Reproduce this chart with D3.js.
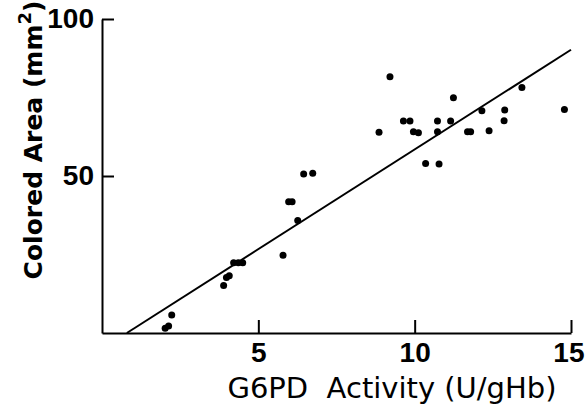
<!DOCTYPE html>
<html>
<head>
<meta charset="utf-8">
<script src="https://cdn.jsdelivr.net/npm/d3@7"></script>
<style>
  body { margin: 0; background: #fff; }
  .axis path, .axis line { stroke: #000; stroke-width: 2; }
  .axis text { font-family: "Liberation Sans Narrow", "Liberation Sans", Arial, sans-serif; font-weight: bold; font-size: 28px; fill: #000; }
  .title { font-family: "DejaVu Sans", sans-serif; fill: #000; }
</style>
</head>
<body>
<script>
var width = 586,
    height = 409;

// G6PD activity (U/gHb) vs colored area (mm2)
var activity = [2.02, 2.13, 2.23, 3.89, 3.98, 4.07, 4.21, 4.36, 4.5, 5.79, 5.97, 6.08, 6.26, 6.45, 6.74,
                8.86, 9.21, 9.64, 9.85, 9.96, 10.12, 10.35, 10.73, 10.73, 10.78, 11.15, 11.24, 11.69, 11.79,
                12.15, 12.38, 12.86, 12.88, 13.43, 14.79];
var area = [1.5, 2.2, 5.7, 15.1, 17.7, 18.2, 22.4, 22.4, 22.4, 24.8, 41.8, 41.8, 35.8, 50.6, 50.9,
            63.9, 81.6, 67.5, 67.5, 64.1, 63.8, 54.0, 67.5, 64.1, 53.8, 67.5, 74.9, 64.1, 64.1,
            70.8, 64.4, 67.6, 71.0, 78.2, 71.2];

// regression line: area = slope * activity + intercept
var slope = 6.35,
    intercept = -5.05,
    lineRange = [0.795, 15];

var xTicks = [5, 10, 15],
    yTicks = [50, 100];

var x = d3.scaleLinear().domain([0, 15]).range([102, 571]),
    y = d3.scaleLinear().domain([0, 100]).range([333, 19]);

var svg = d3.select('body').append('svg')
    .attr('width', width)
    .attr('height', height);

var xAxis = svg.append('g')
    .attr('class', 'axis')
    .attr('transform', 'translate(0,' + y(0) + ')')
    .call(d3.axisBottom(x).tickValues(xTicks).tickSizeInner(-13).tickSizeOuter(0).tickPadding(9));

// last label sits against the right edge
xAxis.selectAll('.tick text')
    .filter(function(d) { return d === 15; })
    .attr('text-anchor', 'end')
    .attr('dx', 13);

svg.append('g')
    .attr('class', 'axis')
    .attr('transform', 'translate(' + x(0) + ',0)')
    .call(d3.axisLeft(y).tickValues(yTicks).tickSizeInner(-12).tickSizeOuter(0).tickPadding(8));

svg.selectAll('.axis .domain').attr('fill', 'none');

svg.append('line')
    .attr('x1', x(lineRange[0]))
    .attr('y1', y(slope * lineRange[0] + intercept))
    .attr('x2', x(lineRange[1]))
    .attr('y2', y(slope * lineRange[1] + intercept))
    .attr('stroke', '#000')
    .attr('stroke-width', 2);

svg.append('g').selectAll('circle')
    .data(activity)
    .enter().append('circle')
    .attr('cx', function(d) { return x(d); })
    .attr('cy', function(d, i) { return y(area[i]); })
    .attr('r', 3.5)
    .attr('fill', '#000');

svg.append('text')
    .attr('class', 'title')
    .attr('x', 392)
    .attr('y', 398)
    .attr('text-anchor', 'middle')
    .attr('font-size', 29)
    .style('white-space', 'pre')
    .text('G6PD  Activity (U/gHb)');

var yt = svg.append('text')
    .attr('class', 'title')
    .attr('transform', 'translate(42,140)rotate(-90)')
    .attr('text-anchor', 'middle')
    .attr('font-size', 25)
    .attr('font-weight', 'bold');
yt.append('tspan').text('Colored Area (mm');
yt.append('tspan').attr('font-size', 18).attr('dy', -11).text('2');
yt.append('tspan').attr('dy', 11).text(')');
</script>
</body>
</html>
